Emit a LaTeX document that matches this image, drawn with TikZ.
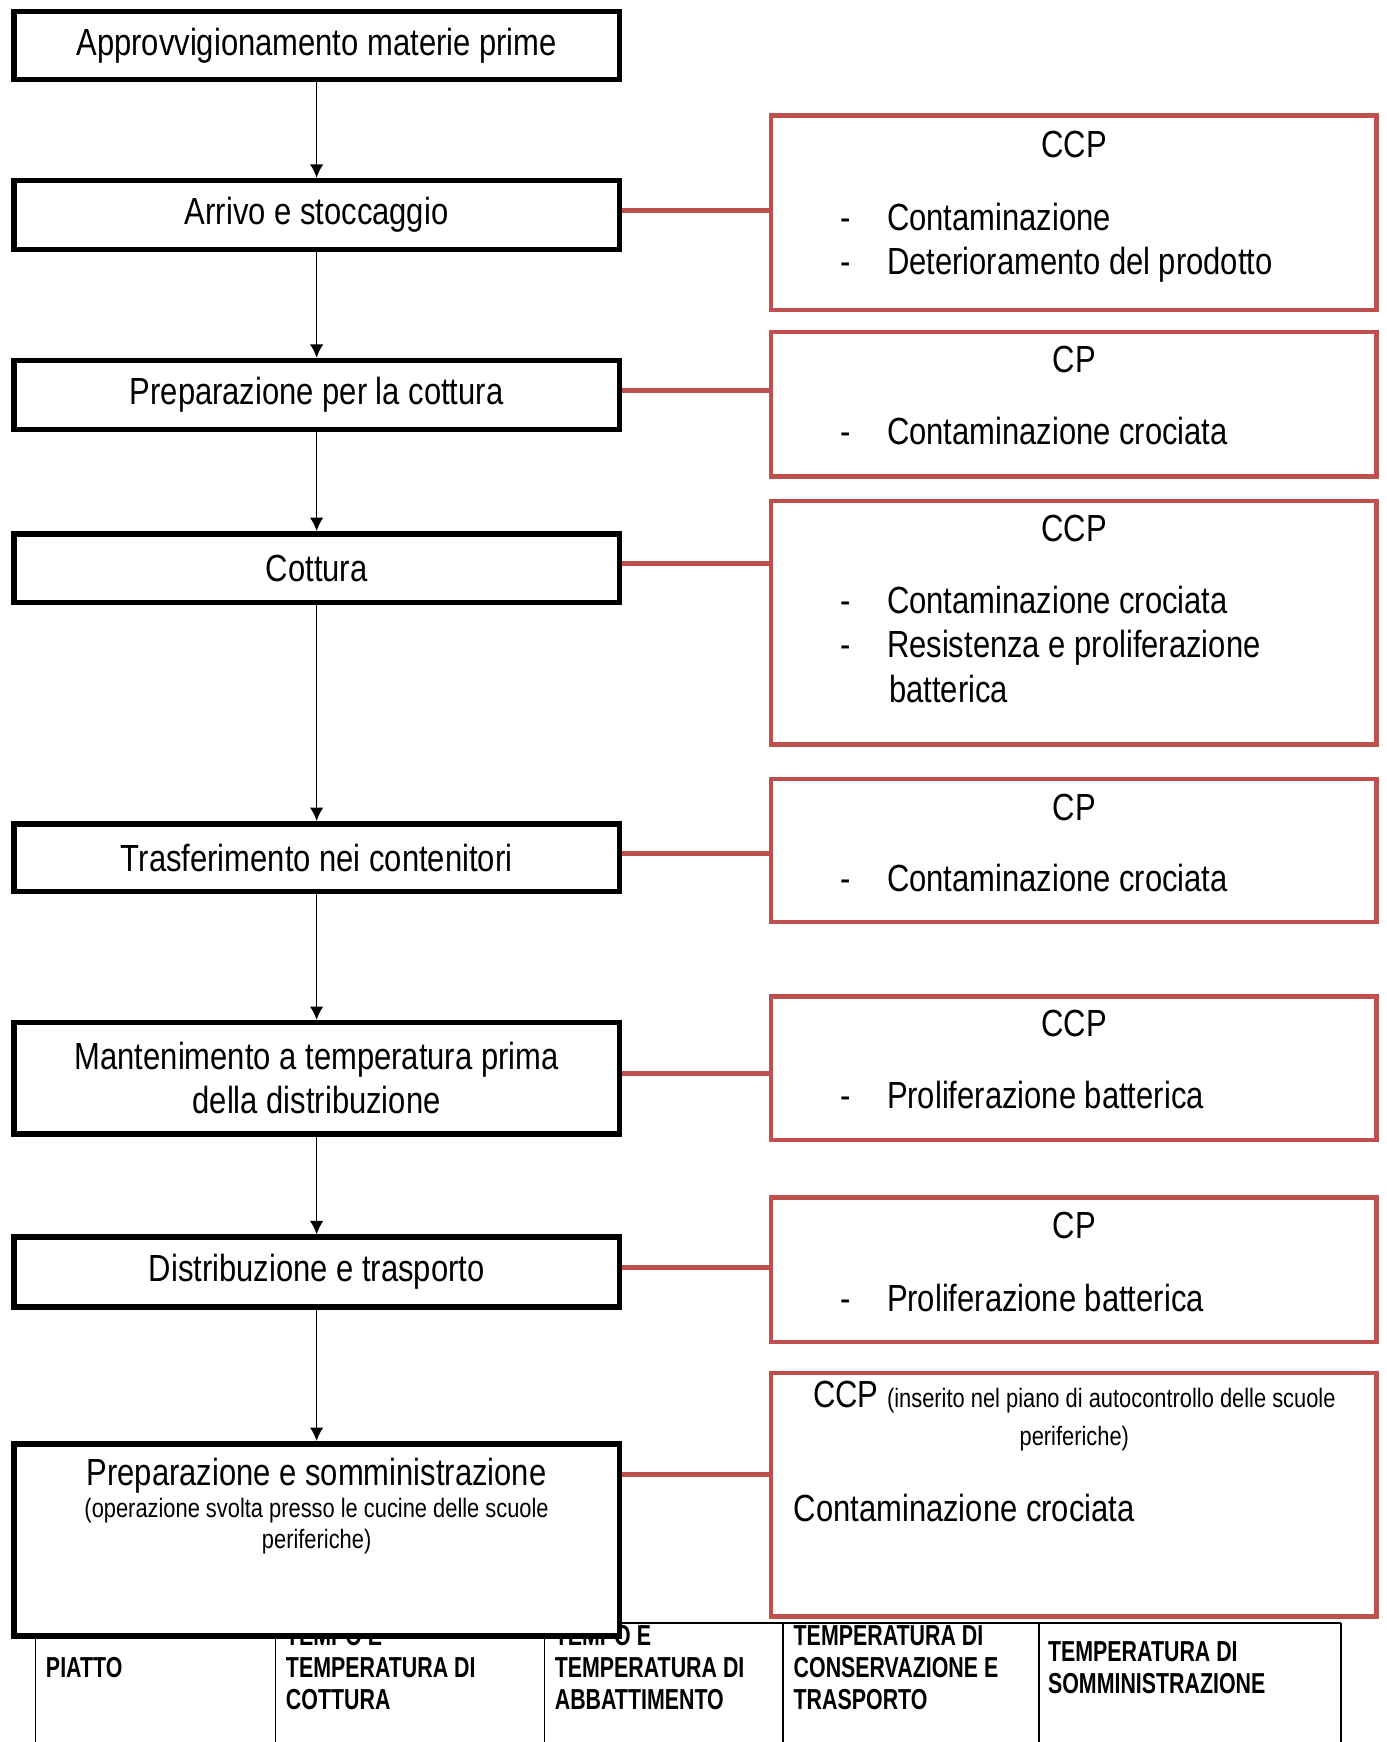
\documentclass[tikz,border=0pt]{standalone}
\usepackage{fontspec}
\setmainfont[FakeStretch=0.82]{Liberation Sans}
\newfontfamily\tabfont[FakeStretch=0.74]{Liberation Sans}
\usetikzlibrary{arrows.meta}
\definecolor{ccpred}{RGB}{192,80,77}

\begin{document}
\begin{tikzpicture}[x=0.5pt,y=-0.5pt,
  stepbox/.style={draw=black,line width=2.5pt,fill=white,minimum width=272.5pt,inner sep=0pt,align=center,font=\fontsize{17}{20}\selectfont},
  riskbox/.style={draw=ccpred,line width=2pt,minimum width=272.5pt,inner sep=0pt},
  flow/.style={-{Latex[length=6pt,width=6pt]},line width=0.6pt},
  link/.style={draw=ccpred,line width=2.4pt},
  hdr/.style={inner sep=0pt,text height=12.2pt,text depth=0pt,font=\fontsize{17}{20}\selectfont},
  item/.style={hdr,anchor=west},
  small/.style={inner sep=0pt,align=center,font=\fontsize{12}{14}\selectfont},
  cell/.style={inner sep=0pt,anchor=west,align=left,font=\tabfont\fontsize{13}{14.25}\selectfont\bfseries}]
\useasboundingbox (0,0) rectangle (1248,1568);
% table under the last step
\draw[line width=0.75pt] (32,1461) -- (1207,1461);
\foreach \cx in {32,248,490,705,935,1207}
  \draw[line width=0.75pt] (\cx,1461) -- (\cx,1568);
\node[cell] (colpiatto) at (41,1501) {PIATTO};
\node[cell] (colcott) at (257,1501) {TEMPO E\\TEMPERATURA DI\\COTTURA};
\node[cell] (colabb) at (499,1501) {TEMPO E\\TEMPERATURA DI\\ABBATTIMENTO};
\node[cell] (colcons) at (714,1501) {TEMPERATURA DI\\CONSERVAZIONE E\\TRASPORTO};
\node[cell] (colsomm) at (943,1501) {TEMPERATURA DI\\SOMMINISTRAZIONE};
% process steps
\node[stepbox,minimum height=30.5pt] (app) at (285,41) {Approvvigionamento materie prime};
\node[stepbox,minimum height=31pt] (arr) at (285,193.5) {Arrivo e stoccaggio};
\node[stepbox,minimum height=31pt] (prep) at (285,355.5) {Preparazione per la cottura};
\node[stepbox,minimum height=31pt] (cott) at (285,511.5) {Cottura};
\node[stepbox,minimum height=30.5pt] (trasf) at (285,772) {Trasferimento nei contenitori};
\node[stepbox,minimum height=50pt] (mant) at (285,970.5) {Mantenimento a temperatura prima\\della distribuzione};
\node[stepbox,minimum height=31.5pt] (distr) at (285,1145) {Distribuzione e trasporto};
\node[stepbox,minimum height=86.5pt] (somm) at (285,1386) {};
\node[hdr] (sommtit) at (285,1325) {Preparazione e somministrazione};
\node[small] (sommsub) at (285,1374) {(operazione svolta presso le cucine delle scuole\\periferiche)};
\foreach \a/\b in {app/arr,arr/prep,prep/cott,cott/trasf,trasf/mant,mant/distr,distr/somm}
  \draw[flow] (\a.south) -- (\b.north);
% hazard boxes
\node[riskbox,minimum height=87.5pt] (ccpa) at (966.5,191.5) {};
\node[riskbox,minimum height=65pt] (cpb) at (966.5,364) {};
\node[riskbox,minimum height=109.5pt] (ccpc) at (966.5,560.5) {};
\node[riskbox,minimum height=64.5pt] (cpd) at (966.5,765.5) {};
\node[riskbox,minimum height=64.5pt] (ccpe) at (966.5,961.5) {};
\node[riskbox,minimum height=65pt] (cpf) at (966.5,1143) {};
\node[riskbox,minimum height=109.5pt] (ccpg) at (966.5,1345.5) {};
\foreach \a/\b in {arr/ccpa,prep/cpb,cott/ccpc,trasf/cpd,mant/ccpe,distr/cpf}
  \draw[link] ([yshift=2pt]\a.east) -- ([yshift=2pt]\a.east -| \b.west);
\coordinate (sommlink) at ([yshift=-15pt]somm.north east);
\draw[link] (sommlink) -- (sommlink -| ccpg.west);
% texts in the hazard boxes
\node[hdr] (ta) at (967,130) {CCP};
\node[item] (da1) at (756,195) {-};
\node[item] (ia1) at (798,195) {Contaminazione};
\node[item] (da2) at (756,235) {-};
\node[item] (ia2) at (798,235) {Deterioramento del prodotto};
\node[hdr] (tb) at (967,323) {CP};
\node[item] (db1) at (756,388) {-};
\node[item] (ib1) at (798,388) {Contaminazione crociata};
\node[hdr] (tc) at (967,475) {CCP};
\node[item] (dc1) at (756,540) {-};
\node[item] (ic1) at (798,540) {Contaminazione crociata};
\node[item] (dc2) at (756,580) {-};
\node[item] (ic2) at (798,580) {Resistenza e proliferazione};
\node[item] (ic3) at (800,620) {batterica};
\node[hdr] (td) at (967,726) {CP};
\node[item] (dd1) at (756,790) {-};
\node[item] (id1) at (798,790) {Contaminazione crociata};
\node[hdr] (te) at (967,921) {CCP};
\node[item] (de1) at (756,986) {-};
\node[item] (ie1) at (798,986) {Proliferazione batterica};
\node[hdr] (tf) at (967,1103) {CP};
\node[item] (df1) at (756,1168) {-};
\node[item] (if1) at (798,1168) {Proliferazione batterica};
\node[small,anchor=south] (tg) at (967,1272) {\fontsize{17}{20}\selectfont CCP {\fontsize{12}{14}\selectfont (inserito nel piano di autocontrollo delle scuole}};
\node[small] (tg2) at (967,1295) {periferiche)};
\node[item] (ig1) at (714,1357) {Contaminazione crociata};
\end{tikzpicture}
\end{document}
